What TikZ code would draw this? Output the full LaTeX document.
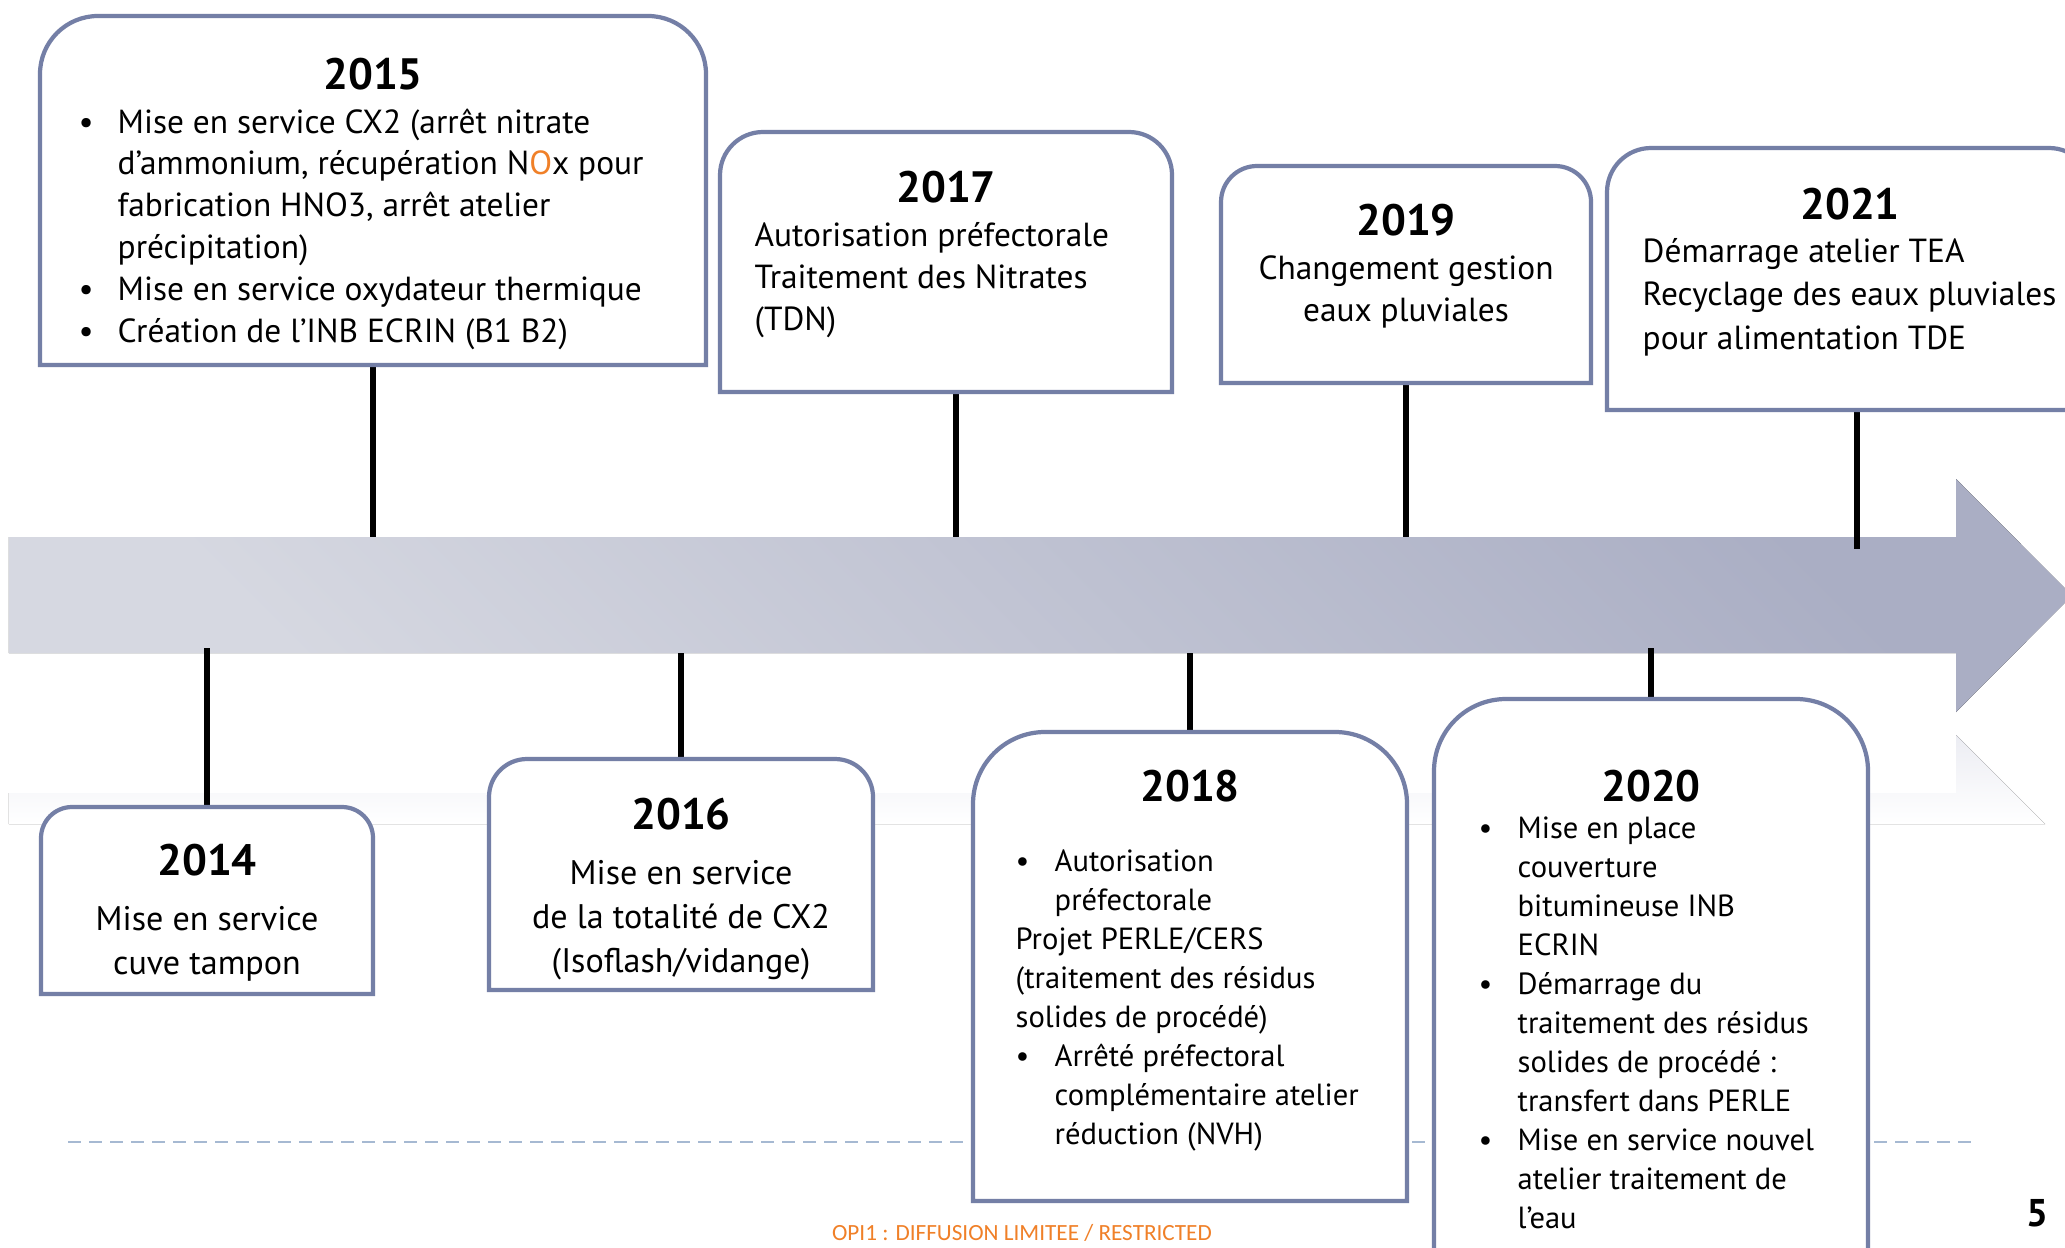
\documentclass[tikz,border=0pt]{standalone}
\usepackage{fontspec}
\setmainfont{PT Sans}
\newfontfamily\footfont{Carlito}
\usepackage{tikz}
\usetikzlibrary{positioning}
\definecolor{framec}{RGB}{116,127,166}
\definecolor{arrowdark}{RGB}{170,174,196}
\definecolor{arrowlight}{RGB}{214,216,225}
\definecolor{reflc}{RGB}{236,237,243}
\definecolor{dashc}{RGB}{166,185,210}
\definecolor{accent}{RGB}{240,128,40}
\newcommand{\bulpt}{\makebox[0.39cm][l]{\textbullet}}
\newcommand{\bulind}{\hspace*{0.39cm}}

\begin{document}
\begin{tikzpicture}[
    slot/.style={inner sep=0pt, outer sep=0pt},
    frame/.style={draw=framec, line width=1.2pt, fill=white},
    stem/.style={line width=1.6pt, black},
    year/.style={inner sep=0pt, font=\fontsize{12.5}{15}\selectfont\bfseries},
    txt/.style={inner sep=0pt, align=left, font=\fontsize{9.5}{11.9}\selectfont, execute at begin node=\strut},
    ctxt/.style={txt, align=center},
    wtxt/.style={ctxt, font=\fontsize{9.7}{12.5}\selectfont},
    ltxt/.style={txt, font=\fontsize{8.7}{11.1}\selectfont},
]
\path[use as bounding box] (0,0) rectangle (20.65,-12.47);
\clip (0,0) rectangle (20.65,-12.47);
\fill[white] (0,0) rectangle (20.65,-12.47);
% === Timeline arrow ===
\fill[top color=arrowdark, bottom color=arrowlight, shading angle=-45]
    (0.09,-5.37) -- (19.56,-5.37) -- (19.56,-4.79) -- (20.72,-5.955)
    -- (19.56,-7.12) -- (19.56,-6.53) -- (0.09,-6.53) -- cycle;
\fill[top color=reflc, bottom color=white]
    (0.09,-7.93) -- (19.56,-7.93) -- (19.56,-7.35) -- (20.45,-8.24) -- (0.09,-8.24) -- cycle;
\coordinate (tl) at (0,-5.37);
\coordinate (bl) at (0,-6.53);
\draw[dashc, line width=0.8pt, dash pattern=on 0.13cm off 0.08cm] (0.68,-11.42) -- (19.75,-11.42);
% === Year slots ===
\node[slot, minimum width=6.66cm, minimum height=3.49cm] (b2015) at (3.73,-1.905) {};
\node[slot, minimum width=4.52cm, minimum height=2.60cm] (b2017) at (9.46,-2.62) {};
\node[slot, minimum width=3.70cm, minimum height=2.17cm] (b2019) at (14.06,-2.745) {};
\node[slot, minimum width=4.86cm, minimum height=2.62cm] (b2021) at (18.50,-2.79) {};
\node[slot, minimum width=3.32cm, minimum height=1.87cm] (b2014) at (2.07,-9.005) {};
\node[slot, minimum width=3.84cm, minimum height=2.31cm] (b2016) at (6.81,-8.745) {};
\node[slot, minimum width=4.34cm, minimum height=4.69cm] (b2018) at (11.90,-9.665) {};
\node[slot, minimum width=4.34cm, minimum height=5.81cm] (b2020) at (16.51,-9.895) {};
% === Stems ===
\draw[stem] (b2015.south) -- (b2015.south |- tl);
\draw[stem] ([xshift=0.1cm]b2017.south) -- ([xshift=0.1cm]b2017.south |- tl);
\draw[stem] (b2019.south) -- (b2019.south |- tl);
\draw[stem] ([xshift=0.07cm]b2021.south) -- ([xshift=0.07cm,yshift=-0.12cm]b2021.south |- tl);
\draw[stem] ([yshift=0.05cm]b2014.north |- bl) -- (b2014.north);
\draw[stem] (b2016.north |- bl) -- (b2016.north);
\draw[stem] (b2018.north |- bl) -- (b2018.north);
\draw[stem] ([yshift=0.05cm]b2020.north |- bl) -- (b2020.north);
% === Frames, rounded on top ===
\foreach \b/\r in {b2015/0.58, b2017/0.43, b2019/0.36, b2021/0.44, b2014/0.31, b2016/0.38, b2018/0.72, b2020/0.72}
  \draw[frame] (\b.south west) -- ([yshift=-\r cm]\b.north west)
    arc[start angle=180, end angle=90, radius=\r]
    -- ([xshift=-\r cm]\b.north east)
    arc[start angle=90, end angle=0, radius=\r]
    -- (\b.south east) -- cycle;
% === Years ===
\node[year, below=0.41 of b2015.north] (y2015) {2015};
\node[year, below=0.38 of b2017.north] (y2017) {2017};
\node[year, below=0.37 of b2019.north] (y2019) {2019};
\node[year, below=0.39 of b2021.north] (y2021) {2021};
\node[year, below=0.36 of b2014.north] (y2014) {2014};
\node[year, below=0.38 of b2016.north] (y2016) {2016};
\node[year, below=0.37 of b2018.north] (y2018) {2018};
\node[year, below=0.70 of b2020.north] (y2020) {2020};
% === Texts ===
\node[txt, below right=0.92 and 0.38 of b2015.north west] (t2015) {%
\bulpt Mise en service CX2 (arrêt nitrate\\
\bulind d’ammonium, récupération N{\color{accent}O}x pour\\
\bulind fabrication HNO3, arrêt atelier\\
\bulind précipitation)\\
\bulpt Mise en service oxydateur thermique\\
\bulpt Création de l’INB ECRIN (B1 B2)};
\node[txt, below right=0.90 and 0.34 of b2017.north west] (t2017) {Autorisation préfectorale\\Traitement des Nitrates\\(TDN)};
\node[ctxt, below=0.19 of y2019] (t2019) {Changement gestion\\eaux pluviales};
\node[txt, font=\fontsize{9.5}{12.3}\selectfont, below right=0.90 and 0.35 of b2021.north west] (t2021) {Démarrage atelier TEA\\Recyclage des eaux pluviales\\pour alimentation TDE};
\node[wtxt, below=0.29 of y2014] (t2014) {Mise en service\\cuve tampon};
\node[wtxt, below=0.29 of y2016] (t2016) {Mise en service\\de la totalité de CX2\\(Isoflash/vidange)};
\node[ltxt, below right=1.17 and 0.42 of b2018.north west] (t2018) {%
\bulpt Autorisation\\
\bulind préfectorale\\
Projet PERLE/CERS\\
(traitement des résidus\\
solides de procédé)\\
\bulpt Arrêté préfectoral\\
\bulind complémentaire atelier\\
\bulind réduction (NVH)};
\node[ltxt, below right=1.17 and 0.44 of b2020.north west] (t2020) {%
\bulpt Mise en place\\
\bulind couverture\\
\bulind bitumineuse INB\\
\bulind ECRIN\\
\bulpt Démarrage du\\
\bulind traitement des résidus\\
\bulind solides de procédé :\\
\bulind transfert dans PERLE\\
\bulpt Mise en service nouvel\\
\bulind atelier traitement de\\
\bulind l’eau};
% === Footer ===
\node[inner sep=0pt, font=\footfont\fontsize{6.6}{8}\selectfont, text=accent] (foot) at (10.22,-12.33) {OPI1 : DIFFUSION LIMITEE / RESTRICTED};
\node[inner sep=0pt, font=\fontsize{11}{13}\selectfont\bfseries] (pg) at (20.37,-12.13) {5};
\end{tikzpicture}
\end{document}
